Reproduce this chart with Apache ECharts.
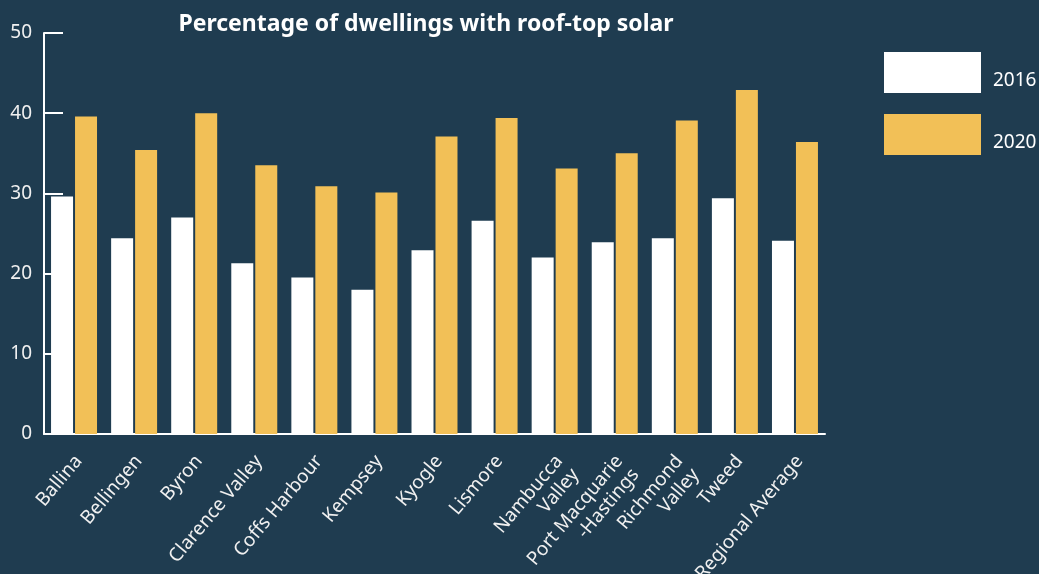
<!DOCTYPE html>
<html><head><meta charset="utf-8">
<script src="https://cdn.jsdelivr.net/npm/echarts@6/dist/echarts.min.js"></script>
<style>html,body{margin:0;padding:0;background:#1f3c50}#c{width:1039px;height:574px}</style>
</head><body><div id="c"></div>
<script>
const categories = ["Ballina","Bellingen","Byron","Clarence Valley","Coffs Harbour","Kempsey","Kyogle","Lismore","Nambucca\nValley","Port Macquarie\n-Hastings","Richmond\nValley","Tweed","Regional Average"];
const values2016 = [29.6,24.4,27.0,21.3,19.5,18.0,22.9,26.6,22.0,23.9,24.4,29.4,24.1];
const values2020 = [39.6,35.4,40.0,33.5,30.9,30.1,37.1,39.4,33.1,35.0,39.1,42.9,36.4];
const seriesNames = ["2016","2020"];
const yTicks = {min:0,max:50,interval:10};

const font = "'Source Sans Pro','Noto Sans',sans-serif";
const chart = echarts.init(document.getElementById('c'));
chart.setOption({
  backgroundColor:'#1f3c50',
  animation:false,
  title:{text:'Percentage of dwellings with roof-top solar',left:421,top:8,textAlign:'center',
    textStyle:{color:'#ffffff',fontSize:23,fontWeight:'bold',fontFamily:font}},
  legend:{orient:'vertical',left:884,top:52,padding:0,itemWidth:97,itemHeight:41,itemGap:21,
    icon:'rect',formatter:'{a|{name}}',
    textStyle:{color:'#ffffff',fontSize:19,fontFamily:font,
      rich:{a:{color:'#ffffff',fontSize:19,fontFamily:font,padding:[16,0,0,7]}}},
    data:seriesNames},
  grid:{left:44,right:214,top:33,bottom:140,containLabel:false,outerBoundsMode:'none'},
  xAxis:{type:'category',data:categories,
    axisLine:{lineStyle:{color:'#ffffff',width:2}},
    axisTick:{inside:true,length:8,lineStyle:{color:'#ffffff',width:2}},
    axisLabel:{rotate:50,color:'#f0f0f0',fontSize:19,fontFamily:font,margin:20,interval:0,
      formatter:function(v){
        var lines = v.split('\n');
        if (lines.length < 2) lines.push(' ');
        return '{s| }\n' + lines.map(function(l){return '{t|'+l+'}';}).join('\n');
      },
      rich:{s:{fontSize:10,lineHeight:33},t:{color:'#f0f0f0',fontSize:19,fontFamily:font,lineHeight:21}}}},
  yAxis:{type:'value',min:yTicks.min,max:yTicks.max,interval:yTicks.interval,
    splitLine:{show:false},
    axisLine:{show:true,lineStyle:{color:'#ffffff',width:2}},
    axisTick:{show:true,inside:true,length:19,lineStyle:{color:'#ffffff',width:2}},
    axisLabel:{color:'#f0f0f0',fontSize:19,fontFamily:font,margin:12}},
  series:[
    {name:seriesNames[0],type:'bar',data:values2016,barWidth:22,barGap:'9%',itemStyle:{color:'#ffffff'}},
    {name:seriesNames[1],type:'bar',data:values2020,barWidth:22,itemStyle:{color:'#f2c057'}}
  ]
});
</script></body></html>
